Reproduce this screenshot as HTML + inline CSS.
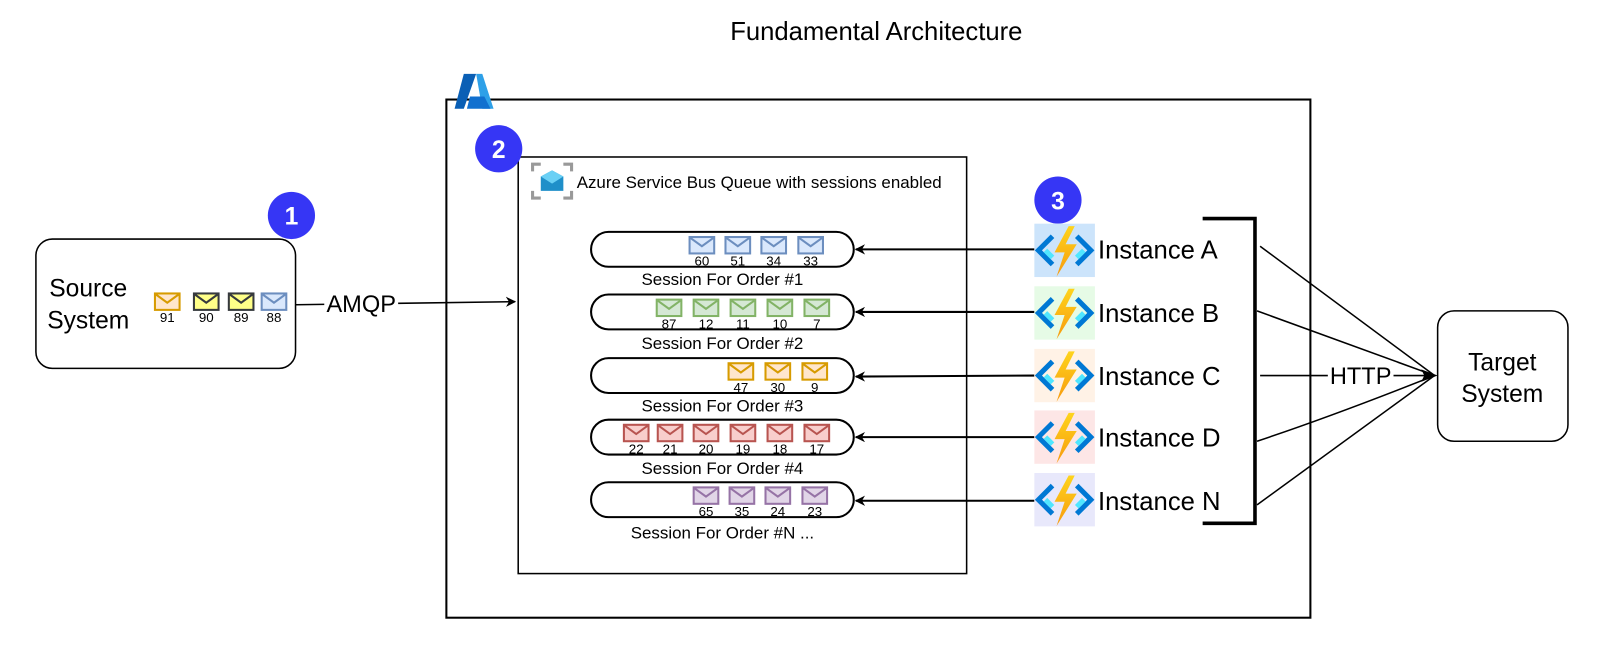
<!DOCTYPE html>
<html><head><meta charset="utf-8"><style>
html,body{margin:0;padding:0;background:#fff;}
svg{display:block;}
text{font-family:"Liberation Sans",Arial,sans-serif;fill:#000;}
</style></head><body>
<svg width="1609" height="649" viewBox="0 0 1568 632.5" preserveAspectRatio="none" xmlns="http://www.w3.org/2000/svg">
<defs>
<symbol id="env" viewBox="0 0 24 16" overflow="visible">
<rect x="0" y="0" width="24" height="16" stroke-width="2"/>
<polyline points="1,1 12,9 23,1" fill="none" stroke-width="2"/>
</symbol>
<marker id="arr" viewBox="0 0 10 10" refX="9" refY="5" markerWidth="10" markerHeight="10" orient="auto" markerUnits="userSpaceOnUse">
<path d="M0,0 L10,5 L0,10 L3,5 z" fill="#000"/>
</marker>
<linearGradient id="bolt" x1="0" y1="0" x2="0" y2="1"><stop offset="0" stop-color="#fed41d"/><stop offset="1" stop-color="#f79a0e"/></linearGradient>
<symbol id="fn" viewBox="0 0 60 52" overflow="visible">
<polyline points="18,12 4,26 18,40" fill="none" stroke="#0078d4" stroke-width="5"/>
<polyline points="42,12 56,26 42,40" fill="none" stroke="#0078d4" stroke-width="5"/>
<polyline points="11,26 18,33" fill="none" stroke="#50e6ff" stroke-width="5"/>
<polyline points="49,26 42,33" fill="none" stroke="#50e6ff" stroke-width="5"/>
<path d="M34,2 L20,28 L30,28 L22,52 L42,20 L31,20 L40,2 z" fill="url(#bolt)"/>
</symbol>
</defs>

<text x="854" y="39" font-size="25" text-anchor="middle">Fundamental Architecture</text>

<!-- Azure outer -->
<rect x="435" y="97" width="842" height="505" fill="none" stroke="#000" stroke-width="2"/>
<path d="M452,72 L464,72 L452,106 L443,106 z" fill="#0a5fb5"/>
<path d="M464,72 L470,72 L481,106 L470,106 z" fill="#2ea0e8"/>
<path d="M458,94 L472,94 L478,106 L455,106 z" fill="#1170cf"/>

<!-- inner box -->
<rect x="505" y="153" width="437" height="406" fill="none" stroke="#000" stroke-width="1.5"/>
<g fill="none" stroke="#999" stroke-width="3">
<polyline points="519,167 519,160 527,160"/><polyline points="549,160 557,160 557,167"/>
<polyline points="519,186 519,193 527,193"/><polyline points="549,193 557,193 557,186"/>
</g>
<path d="M527,172 L538,166 L549,172 L549,186 L527,186 z" fill="#1f8fc9"/>
<path d="M527,172 L538,179 L549,172 L538,166 z" fill="#6ad0f5"/>
<text x="562" y="183" font-size="16.5">Azure Service Bus Queue with sessions enabled</text>

<!-- badges -->
<circle cx="284" cy="210" r="23" fill="#3636f5"/><text x="284" y="219" font-size="24" font-weight="bold" text-anchor="middle" style="fill:#fff">1</text>
<circle cx="486" cy="145" r="23" fill="#3636f5"/><text x="486" y="154" font-size="24" font-weight="bold" text-anchor="middle" style="fill:#fff">2</text>
<circle cx="1031" cy="195" r="23" fill="#3636f5"/><text x="1031" y="204" font-size="24" font-weight="bold" text-anchor="middle" style="fill:#fff">3</text>

<!-- Source -->
<rect x="35" y="233" width="253" height="126" rx="16" fill="#fff" stroke="#000" stroke-width="1.5"/>
<text x="86" y="289" font-size="24" text-anchor="middle">Source</text>
<text x="86" y="320" font-size="24" text-anchor="middle">System</text>
<g font-size="13" text-anchor="middle">
<use href="#env" x="151" y="286" width="24" height="16" fill="#ffe6cc" stroke="#d79b00"/><text x="163" y="314">91</text>
<use href="#env" x="189" y="286" width="24" height="16" fill="#ffff88" stroke="#36393d"/><text x="201" y="314">90</text>
<use href="#env" x="223" y="286" width="24" height="16" fill="#ffff88" stroke="#36393d"/><text x="235" y="314">89</text>
<use href="#env" x="255" y="286" width="24" height="16" fill="#dae8fc" stroke="#6c8ebf"/><text x="267" y="314">88</text>
</g>

<!-- AMQP -->
<line x1="288" y1="297" x2="502" y2="294" stroke="#000" stroke-width="1.5" marker-end="url(#arr)"/>
<rect x="316" y="284" width="72" height="24" fill="#fff"/>
<text x="352" y="304" font-size="23" text-anchor="middle">AMQP</text>

<!-- sessions -->
<g fill="#fff" stroke="#000" stroke-width="2">
<rect x="576" y="226" width="256" height="34" rx="17"/>
<rect x="576" y="287" width="256" height="34" rx="17"/>
<rect x="576" y="349" width="256" height="34" rx="17"/>
<rect x="576" y="409" width="256" height="34" rx="17"/>
<rect x="576" y="470" width="256" height="34" rx="17"/>
</g>
<g font-size="16.5" text-anchor="middle">
<text x="704" y="278">Session For Order #1</text>
<text x="704" y="340">Session For Order #2</text>
<text x="704" y="401">Session For Order #3</text>
<text x="704" y="462">Session For Order #4</text>
<text x="704" y="525">Session For Order #N ...</text>
</g>
<g font-size="13" text-anchor="middle">
<g fill="#dae8fc" stroke="#6c8ebf">
<use href="#env" x="672" y="231" width="24" height="16"/><use href="#env" x="707" y="231" width="24" height="16"/><use href="#env" x="742" y="231" width="24" height="16"/><use href="#env" x="778" y="231" width="24" height="16"/>
</g>
<text x="684" y="259">60</text><text x="719" y="259">51</text><text x="754" y="259">34</text><text x="790" y="259">33</text>
<g fill="#d5e8d4" stroke="#82b366">
<use href="#env" x="640" y="292" width="24" height="16"/><use href="#env" x="676" y="292" width="24" height="16"/><use href="#env" x="712" y="292" width="24" height="16"/><use href="#env" x="748" y="292" width="24" height="16"/><use href="#env" x="784" y="292" width="24" height="16"/>
</g>
<text x="652" y="320">87</text><text x="688" y="320">12</text><text x="724" y="320">11</text><text x="760" y="320">10</text><text x="796" y="320">7</text>
<g fill="#ffe6cc" stroke="#d79b00">
<use href="#env" x="710" y="354" width="24" height="16"/><use href="#env" x="746" y="354" width="24" height="16"/><use href="#env" x="782" y="354" width="24" height="16"/>
</g>
<text x="722" y="382">47</text><text x="758" y="382">30</text><text x="794" y="382">9</text>
<g fill="#f8cecc" stroke="#b85450">
<use href="#env" x="608" y="414" width="24" height="16"/><use href="#env" x="641" y="414" width="24" height="16"/><use href="#env" x="676" y="414" width="24" height="16"/><use href="#env" x="712" y="414" width="24" height="16"/><use href="#env" x="748" y="414" width="24" height="16"/><use href="#env" x="784" y="414" width="24" height="16"/>
</g>
<text x="620" y="442">22</text><text x="653" y="442">21</text><text x="688" y="442">20</text><text x="724" y="442">19</text><text x="760" y="442">18</text><text x="796" y="442">17</text>
<g fill="#e1d5e7" stroke="#9673a6">
<use href="#env" x="676" y="475" width="24" height="16"/><use href="#env" x="711" y="475" width="24" height="16"/><use href="#env" x="746" y="475" width="24" height="16"/><use href="#env" x="782" y="475" width="24" height="16"/>
</g>
<text x="688" y="503">65</text><text x="723" y="503">35</text><text x="758" y="503">24</text><text x="794" y="503">23</text>
</g>

<!-- arrows to sessions -->
<g stroke="#000" stroke-width="2" marker-end="url(#arr)">
<line x1="1008" y1="243" x2="834" y2="243"/>
<line x1="1008" y1="304" x2="834" y2="304"/>
<line x1="1008" y1="366" x2="834" y2="367"/>
<line x1="1008" y1="426" x2="834" y2="426"/>
<line x1="1008" y1="488" x2="834" y2="488"/>
</g>

<!-- functions -->
<rect x="1008" y="218" width="59" height="52" fill="#cce4fb"/>
<rect x="1008" y="279" width="59" height="52" fill="#e6fbe6"/>
<rect x="1008" y="340" width="59" height="52" fill="#fff2e6"/>
<rect x="1008" y="400" width="59" height="52" fill="#fde6e6"/>
<rect x="1008" y="461" width="59" height="52" fill="#e8e8fb"/>
<use href="#fn" x="1008" y="218" width="59" height="52"/>
<use href="#fn" x="1008" y="279" width="59" height="52"/>
<use href="#fn" x="1008" y="340" width="59" height="52"/>
<use href="#fn" x="1008" y="400" width="59" height="52"/>
<use href="#fn" x="1008" y="461" width="59" height="52"/>
<g font-size="25">
<text x="1070" y="252">Instance A</text>
<text x="1070" y="314">Instance B</text>
<text x="1070" y="375">Instance C</text>
<text x="1070" y="435">Instance D</text>
<text x="1070" y="497">Instance N</text>
</g>

<!-- bracket -->
<polyline points="1172,213 1223,213 1223,510 1172,510" fill="none" stroke="#000" stroke-width="3.5"/>

<!-- HTTP lines -->
<g stroke="#000" stroke-width="1.5" fill="none">
<line x1="1228" y1="240" x2="1398" y2="366"/>
<line x1="1225" y1="303" x2="1398" y2="366"/>
<line x1="1228" y1="366" x2="1398" y2="366"/>
<path d="M1225,430 Q1300,405 1398,366"/>
<line x1="1225" y1="492" x2="1398" y2="366"/>
</g>
<path d="M1401,366 L1385,360 L1388,366 L1385,372 z" fill="#000"/>
<rect x="1294" y="355" width="64" height="22" fill="#fff"/>
<text x="1326" y="374" font-size="23" text-anchor="middle">HTTP</text>

<!-- Target -->
<rect x="1401" y="303" width="127" height="127" rx="16" fill="#fff" stroke="#000" stroke-width="1.5"/>
<text x="1464" y="361" font-size="24" text-anchor="middle">Target</text>
<text x="1464" y="392" font-size="24" text-anchor="middle">System</text>
</svg>
</body></html>
